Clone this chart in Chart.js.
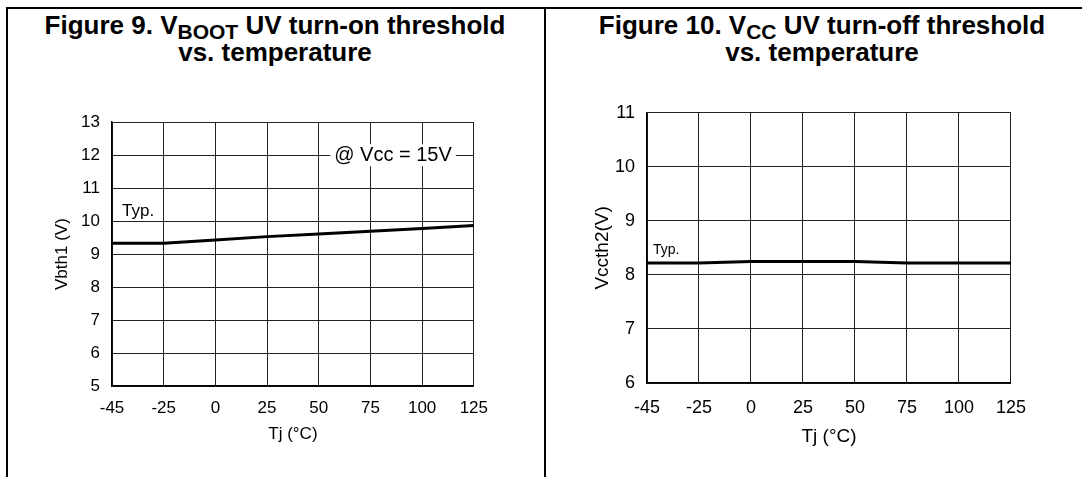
<!DOCTYPE html>
<html>
<head>
<meta charset="utf-8">
<script src="https://cdn.jsdelivr.net/npm/chart.js@4.4.1/dist/chart.umd.min.js"></script>
<style>
    body {
        margin: 0;
        width: 1082px;
        height: 477px;
        background: #ffffff;
        position: relative;
        overflow: hidden;
        font-family: "Liberation Sans", Arial, sans-serif;
    }

    .frame-top {
        position: absolute;
        left: 6px;
        top: 7px;
        width: 1076px;
        height: 2px;
        background: #000;
    }

    .frame-left {
        position: absolute;
        left: 6px;
        top: 7px;
        width: 2px;
        height: 470px;
        background: #000;
    }

    .frame-mid {
        position: absolute;
        left: 544px;
        top: 7px;
        width: 2px;
        height: 470px;
        background: #000;
    }

    .fig-title {
        position: absolute;
        top: 12px;
        width: 540px;
        text-align: center;
        font-weight: bold;
        font-size: 26px;
        line-height: 27px;
        color: #000;
    }

    .fig-title sub {
        font-size: 21px;
        vertical-align: -5px;
        line-height: 0;
    }

    canvas {
        position: absolute;
    }
</style>
</head>
<body>

<div class="frame-top"></div>
<div class="frame-left"></div>
<div class="frame-mid"></div>

<div class="fig-title" style="left:5px;">Figure 9. V<sub>BOOT</sub> UV turn-on threshold<br>vs. temperature</div>
<div class="fig-title" style="left:552px;">Figure 10. V<sub>CC</sub> UV turn-off threshold<br>vs. temperature</div>

<canvas id="chartBoot" style="left:40px; top:100px; width:460px; height:350px;"></canvas>
<canvas id="chartVcc" style="left:580px; top:90px; width:460px; height:360px;"></canvas>

<script>

/* =========================
   DATA
========================= */

const tempLabels = ["-45", "-25", "0", "25", "50", "75", "100", "125"];

const vbth1Typ = [9.33, 9.33, 9.43, 9.53, 9.61, 9.69, 9.78, 9.87];

const vccth2Typ = [8.22, 8.22, 8.25, 8.25, 8.25, 8.22, 8.22, 8.22];

const FONT = "'Liberation Sans', Arial, sans-serif";

/* =========================
   TEXT NOTES PLUGIN
========================= */

const notesPlugin = {

    id: "notes",

    afterDatasetsDraw(chart, args, opts) {

        const ctx = chart.ctx;
        const xs = chart.scales.x;
        const ys = chart.scales.y;

        (opts.items || []).forEach(item => {

            const px = xs.getPixelForValue(item.x) + (item.dx || 0);
            const py = ys.getPixelForValue(item.y);

            ctx.save();
            ctx.font = item.size + "px " + FONT;
            ctx.textBaseline = "middle";
            ctx.textAlign = "left";

            if (item.box) {
                const w = ctx.measureText(item.text).width;
                ctx.fillStyle = "#ffffff";
                ctx.fillRect(px - 4, py - item.size / 2 - 1, w + 8, item.size + 2);
            }

            ctx.fillStyle = "#000000";
            ctx.fillText(item.text, px, py);
            ctx.restore();

        });

    }

};

/* =========================
   CHART BUILDER
========================= */

function makeChart(id, values, cfg) {

    const ctx = document.getElementById(id);

    return new Chart(ctx, {

        type: "line",

        data: {
            labels: tempLabels,
            datasets: [{
                data: values,
                borderColor: "#000000",
                borderWidth: 3,
                pointRadius: 0,
                tension: 0,
                fill: false
            }]
        },

        options: {
            responsive: false,
            animation: false,
            devicePixelRatio: 1,
            layout: {
                padding: { top: cfg.padTop, right: cfg.padRight, left: 0, bottom: 0 }
            },
            plugins: {
                legend: { display: false },
                tooltip: { enabled: false },
                notes: { items: cfg.notes }
            },
            scales: {
                x: {
                    type: "category",
                    offset: false,
                    afterFit: s => { s.height = cfg.xHeight; },
                    grid: { color: "#222", lineWidth: 1, drawTicks: false },
                    border: { color: "#000", width: 1.5 },
                    ticks: {
                        color: "#000",
                        padding: cfg.xTickPad,
                        maxRotation: 0,
                        autoSkip: false,
                        font: { family: FONT, size: cfg.tickSize }
                    },
                    title: {
                        display: true,
                        text: "Tj (°C)",
                        color: "#000",
                        padding: { top: 0, bottom: cfg.xTitlePad },
                        font: { family: FONT, size: cfg.titleSize }
                    }
                },
                y: {
                    min: cfg.yMin,
                    max: cfg.yMax,
                    afterFit: s => { s.width = cfg.yWidth; },
                    grid: { color: "#222", lineWidth: 1, drawTicks: false },
                    border: { color: "#000", width: 1.5 },
                    ticks: {
                        stepSize: 1,
                        color: "#000",
                        padding: 12,
                        font: { family: FONT, size: cfg.tickSize }
                    },
                    title: {
                        display: true,
                        text: cfg.yTitle,
                        color: "#000",
                        padding: { top: cfg.yTitlePad, bottom: 0 },
                        font: { family: FONT, size: cfg.titleSize }
                    }
                }
            }
        },

        plugins: [notesPlugin]

    });

}

/* =========================
   FIGURE 9
========================= */

makeChart("chartBoot", vbth1Typ, {
    yMin: 5,
    yMax: 13,
    yTitle: "Vbth1 (V)",
    padTop: 16,
    padRight: 22,
    yWidth: 72,
    xHeight: 64,
    xTickPad: 12,
    xTitlePad: 5,
    yTitlePad: 12,
    tickSize: 17,
    titleSize: 17,
    notes: [
        { text: "Typ.", x: 0, dx: 10, y: 10.3, size: 17 },
        { text: "@ Vcc = 15V", x: 4.3, dx: 0, y: 12, size: 20, box: true }
    ]
});

/* =========================
   FIGURE 10
========================= */

makeChart("chartVcc", vccth2Typ, {
    yMin: 6,
    yMax: 11,
    yTitle: "Vccth2(V)",
    padTop: 19,
    padRight: 26,
    yWidth: 67,
    xHeight: 67,
    xTickPad: 14,
    xTitlePad: 2,
    yTitlePad: 11,
    tickSize: 18,
    titleSize: 19,
    notes: [
        { text: "Typ.", x: 0, dx: 6, y: 8.46, size: 14 }
    ]
});

</script>
</body>
</html>
